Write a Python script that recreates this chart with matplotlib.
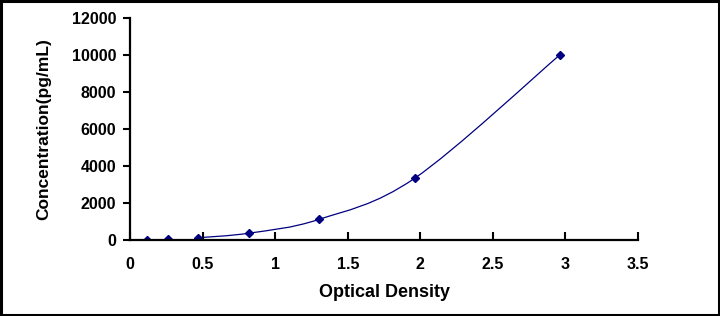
import matplotlib
matplotlib.use("Agg")
import matplotlib.pyplot as plt
import numpy as np
from matplotlib.path import Path
from matplotlib.patches import PathPatch, Rectangle

# Dati della curva standard
od = [0.117, 0.26, 0.47, 0.82, 1.30, 1.96, 2.96]
conc = [0, 41.2, 123.5, 370.4, 1111, 3333, 10000]
x_ticks = [0, 0.5, 1, 1.5, 2, 2.5, 3, 3.5]
y_ticks = [0, 2000, 4000, 6000, 8000, 10000, 12000]

NAVY = "#000080"
plt.rcParams["font.family"] = ["Liberation Sans", "DejaVu Sans"]

fig = plt.figure(figsize=(7.2, 3.16), dpi=100)
ax = fig.add_axes([0.1806, 0.2405, 0.7056, 0.7025])

# Linea smussata (stile Excel) a partire dal terzo punto
px, py = od[2:], conc[2:]
verts = [(px[0], py[0])]
codes = [Path.MOVETO]
n = len(px)
for i in range(n - 1):
    p0 = (px[max(i - 1, 0)], py[max(i - 1, 0)])
    p1 = (px[i], py[i])
    p2 = (px[i + 1], py[i + 1])
    p3 = (px[min(i + 2, n - 1)], py[min(i + 2, n - 1)])
    c1 = (p1[0] + (p2[0] - p0[0]) / 6, p1[1] + (p2[1] - p0[1]) / 6)
    c2 = (p2[0] - (p3[0] - p1[0]) / 6, p2[1] - (p3[1] - p1[1]) / 6)
    verts += [c1, c2, p2]
    codes += [Path.CURVE4] * 3
ax.add_patch(PathPatch(Path(verts, codes), fill=False, edgecolor=NAVY, lw=0.9))

ax.plot(od, conc, linestyle="none", marker="D", markersize=4.2, color=NAVY)

ax.set_xlim(0, 3.5)
ax.set_ylim(0, 12000)
ax.set_xticks(x_ticks)
ax.set_xticklabels([f"{t:g}" for t in x_ticks], fontweight="bold", fontsize=11.5)
ax.set_yticks(y_ticks)
ax.set_yticklabels([str(t) for t in y_ticks], fontweight="bold", fontsize=11.5)
ax.tick_params(axis="x", direction="in", length=6, width=1.5, pad=12)
ax.tick_params(axis="y", direction="out", length=5, width=1.5, pad=5)
for s in ("top", "right"):
    ax.spines[s].set_visible(False)
for s in ("left", "bottom"):
    ax.spines[s].set_linewidth(1.6)

ax.set_xlabel("Optical Density", fontsize=13, fontweight="bold", labelpad=9)
ax.set_ylabel("Concentration(pg/mL)", fontsize=12.5, fontweight="bold", labelpad=15)

# Cornice attorno alla figura
fig.patches.append(Rectangle((0.002, 0.004), 0.996, 0.993, transform=fig.transFigure,
                             fill=False, edgecolor="black", lw=2.2))

fig.savefig("out.png", dpi=100)
